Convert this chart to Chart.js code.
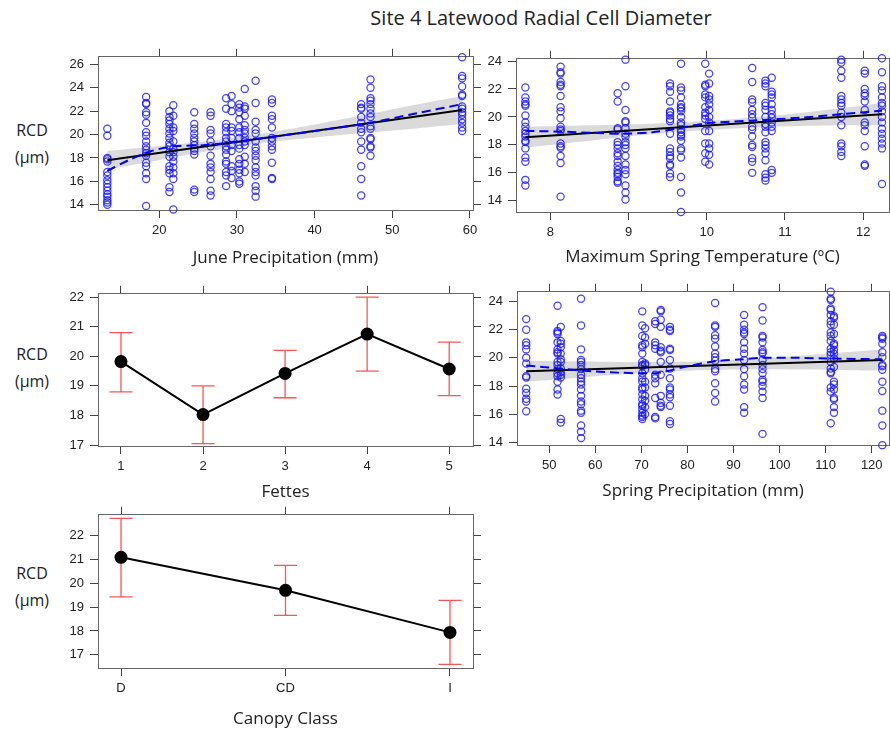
<!DOCTYPE html>
<html>
<head>
<meta charset="utf-8">
<title>Site 4 Latewood Radial Cell Diameter</title>
<script src="https://cdn.jsdelivr.net/npm/chart.js@4.4.1/dist/chart.umd.min.js"></script>
<style>
  html, body { margin: 0; padding: 0; background: #fff; overflow: hidden; }
  #page { position: relative; width: 890px; height: 730px; overflow: hidden; font-family: "Open Sans", Lato, sans-serif; color: #222; }
  #page canvas { position: absolute; }
  .title { position: absolute; left: 291px; width: 500px; top: 6px; text-align: center; font-size: 20px; line-height: 24px; }
  .ylab { position: absolute; left: -3px; width: 70px; text-align: center; font-size: 16px; line-height: 27px; }
</style>
</head>
<body>
<div id="page">
  <div class="title">Site 4 Latewood Radial Cell Diameter</div>
  <div class="ylab" style="top:117px">RCD<br>(μm)</div>
  <div class="ylab" style="top:341px">RCD<br>(μm)</div>
  <div class="ylab" style="top:560px">RCD<br>(μm)</div>
</div>
<script>
// June precipitation (mm) per year, and the RCD values measured in that year
const junePrecip = [13.3, 18.3, 21.3, 21.8, 24.5, 26.6, 28.6, 29.3, 30.3, 31.0, 32.4, 34.5, 46.0, 47.2, 59.0];
const junePrecipRCD = [
  [20.5, 19.9, 18.0, 17.9, 17.7, 16.8, 16.5, 16.1, 15.8, 15.5, 15.2, 14.9, 14.7, 14.4, 14.2, 14.0],
  [23.2, 22.7, 22.6, 21.9, 21.7, 21.0, 20.2, 19.9, 19.4, 19.0, 18.7, 18.4, 18.2, 17.6, 17.3, 16.7, 16.2, 13.9],
  [22.0, 21.5, 21.2, 20.9, 20.5, 20.1, 19.7, 19.3, 19.0, 18.5, 18.1, 17.3, 17.0, 16.7, 15.5, 15.1],
  [22.5, 21.6, 20.6, 20.3, 19.4, 18.8, 18.5, 18.1, 17.7, 17.2, 16.7, 16.2, 13.6],
  [21.9, 20.9, 20.5, 20.1, 19.7, 19.4, 19.1, 18.8, 18.6, 18.3, 15.3, 15.1],
  [21.9, 21.6, 20.4, 20.1, 19.4, 19.0, 18.2, 17.5, 17.2, 16.8, 16.2, 15.2, 14.8],
  [23.1, 22.2, 20.9, 20.6, 20.2, 19.7, 19.4, 19.0, 18.7, 18.3, 17.7, 17.5, 16.8, 16.5, 15.6],
  [23.3, 22.6, 22.0, 20.6, 20.3, 19.7, 19.1, 18.6, 17.3, 16.9, 16.3],
  [22.6, 22.3, 21.9, 21.3, 20.6, 20.2, 19.7, 19.1, 18.8, 17.9, 17.5, 17.0, 16.7, 16.0, 15.8],
  [23.9, 22.4, 22.2, 21.6, 20.8, 20.4, 20.1, 19.7, 19.4, 19.1, 18.1, 17.5, 16.8],
  [24.6, 22.7, 21.1, 20.4, 20.1, 19.4, 18.9, 18.6, 18.2, 17.8, 17.2, 16.8, 16.5, 15.6, 15.2, 14.7],
  [23.0, 22.7, 21.6, 21.3, 20.6, 19.7, 19.4, 19.0, 18.7, 17.6, 16.3, 16.2],
  [22.6, 22.3, 22.2, 21.5, 21.0, 20.5, 20.2, 19.4, 18.7, 17.3, 16.2, 14.8],
  [24.7, 24.0, 23.1, 22.9, 22.6, 22.2, 21.8, 21.5, 20.7, 20.5, 19.7, 19.6, 19.0, 18.9, 18.2],
  [26.6, 25.0, 24.8, 24.1, 23.4, 23.3, 22.4, 22.2, 21.9, 21.7, 21.3, 21.0, 20.6, 20.3]
];
const junePrecipFitX = [13.3, 59.0];
const junePrecipFitY = [17.8, 22.1];
const junePrecipBandX = [13.3, 20, 25, 30, 35, 40, 46, 52, 59];
const junePrecipBandLo = [17.0, 17.83, 18.45, 18.97, 19.42, 19.76, 20.12, 20.46, 20.9];
const junePrecipBandHi = [18.6, 19.03, 19.35, 19.77, 20.26, 20.86, 21.62, 22.42, 23.3];
const junePrecipSmoothX = [13.3, 16, 19, 22, 26, 30, 35, 40, 47, 53, 59];
const junePrecipSmoothY = [16.9, 17.8, 18.6, 19.0, 19.1, 19.4, 19.85, 20.3, 21.0, 21.8, 22.6];
const junePrecipTicks = [20, 30, 40, 50, 60];
const rcdTicksJune = [14, 16, 18, 20, 22, 24, 26];

// Maximum spring temperature (°C)
const springTemp = [7.68, 8.13, 8.86, 8.96, 9.53, 9.67, 9.98, 10.03, 10.58, 10.75, 10.83, 11.72, 12.02, 12.24];
const springTempRCD = [
  [22.1, 21.4, 21.1, 20.9, 20.8, 20.1, 19.6, 19.3, 19.0, 18.8, 18.6, 18.3, 18.2, 17.75, 17.1, 16.8, 15.5, 15.1],
  [23.6, 23.2, 23.1, 22.5, 22.3, 22.2, 21.5, 20.7, 20.4, 19.9, 19.3, 19.1, 19.0, 18.1, 17.9, 17.8, 17.2, 16.7, 14.3],
  [21.7, 21.1, 19.2, 19.1, 18.2, 18.0, 17.75, 17.4, 17.2, 16.8, 16.5, 16.2, 16.0, 15.9, 15.7, 15.4, 15.3],
  [24.1, 22.2, 20.5, 19.7, 19.6, 19.2, 18.8, 18.6, 18.2, 18.0, 17.75, 17.2, 16.6, 16.2, 15.9, 15.1, 14.6, 14.1],
  [22.4, 22.2, 21.8, 21.1, 20.4, 20.3, 20.1, 19.85, 19.7, 18.8, 17.75, 17.5, 17.2, 17.05, 16.6, 16.5, 15.95, 15.7],
  [23.8, 22.1, 21.9, 21.4, 20.9, 20.7, 20.6, 20.4, 20.0, 19.6, 19.4, 19.1, 18.9, 18.7, 18.6, 18.3, 17.75, 17.6, 17.1, 15.7, 14.6, 13.2],
  [23.8, 22.3, 22.2, 21.6, 21.4, 20.7, 20.3, 20.1, 19.85, 19.0, 18.1, 17.4, 16.8],
  [23.1, 22.4, 21.5, 21.25, 20.9, 20.5, 20.0, 19.6, 19.0, 18.1, 17.75, 17.3, 16.6],
  [23.5, 22.5, 21.25, 21.05, 20.5, 20.2, 19.95, 19.3, 19.1, 18.6, 18.0, 17.85, 17.05, 16.8, 16.0],
  [22.6, 22.4, 22.2, 21.0, 20.8, 20.5, 20.0, 19.5, 19.3, 18.9, 18.2, 18.0, 17.75, 17.4, 16.9, 15.9, 15.65, 15.45],
  [22.8, 21.8, 21.6, 21.4, 20.9, 20.5, 20.2, 19.95, 19.6, 19.3, 19.0, 16.2, 16.0],
  [24.1, 23.9, 23.3, 22.8, 21.5, 21.25, 21.0, 20.8, 20.3, 20.0, 19.4, 18.1, 17.9, 17.5, 17.2],
  [23.3, 23.1, 22.0, 21.7, 21.5, 21.1, 20.5, 19.6, 19.4, 19.0, 17.9, 16.6, 16.5],
  [24.2, 23.2, 22.2, 21.9, 21.4, 21.0, 20.8, 20.4, 20.0, 19.6, 19.15, 18.8, 18.45, 18.1, 17.75, 15.2]
];
const springTempFitX = [7.68, 12.24];
const springTempFitY = [18.55, 20.2];
const springTempBandX = [7.68, 8.5, 9.3, 10.0, 10.7, 11.5, 12.24];
const springTempBandLo = [17.8, 18.3, 18.76, 19.06, 19.26, 19.38, 19.4];
const springTempBandHi = [19.3, 19.4, 19.52, 19.72, 20.02, 20.48, 21.0];
const springTempSmoothX = [7.68, 8.13, 8.6, 8.96, 9.3, 9.6, 10.0, 10.6, 11.2, 11.72, 12.24];
const springTempSmoothY = [19.0, 18.95, 18.85, 18.8, 18.9, 19.15, 19.55, 19.75, 19.95, 20.2, 20.45];
const springTempTicks = [8, 9, 10, 11, 12];
const rcdTicksTemp = [14, 16, 18, 20, 22, 24];

// Spring precipitation (mm)
const springPrecip = [45.0, 51.8, 52.5, 56.9, 70.2, 70.8, 73.0, 74.2, 76.2, 86.0, 92.3, 96.3, 111.1, 111.8, 122.3];
const springPrecipRCD = [
  [22.75, 22.0, 21.1, 20.9, 20.6, 20.0, 19.6, 18.7, 18.6, 17.8, 17.5, 17.1, 16.9, 16.2],
  [23.7, 21.9, 21.8, 21.7, 21.1, 20.6, 20.4, 20.3, 19.7, 19.5, 19.2, 18.9, 18.7, 18.3, 17.75, 17.4],
  [22.2, 21.2, 21.0, 20.75, 20.3, 19.9, 19.7, 19.25, 19.0, 18.8, 18.6, 15.65, 15.4],
  [24.2, 22.3, 20.6, 19.85, 19.7, 19.5, 19.2, 18.8, 18.55, 18.3, 18.1, 17.75, 17.3, 16.9, 16.7, 16.25, 16.1, 15.2, 14.75, 14.3],
  [23.3, 22.3, 21.55, 20.9, 20.75, 20.3, 19.7, 19.5, 19.4, 18.9, 18.55, 18.3, 17.9, 17.75, 17.4, 17.05, 16.7, 16.6, 16.35, 16.1, 15.9, 15.8, 15.65],
  [22.1, 21.45, 21.0, 19.6, 19.5, 19.15, 18.3, 17.9, 17.3, 16.95, 16.5, 16.0],
  [22.6, 22.4, 21.1, 20.9, 20.65, 18.8, 18.55, 18.2, 17.15, 15.8, 15.7],
  [23.4, 23.3, 22.7, 22.2, 20.75, 20.5, 20.4, 19.7, 18.8, 17.3, 16.8, 16.6, 16.5],
  [22.2, 22.0, 21.9, 20.65, 20.55, 19.85, 19.25, 18.55, 17.9, 17.75, 17.4, 17.2, 16.6, 15.5, 15.3],
  [23.9, 22.3, 22.2, 21.6, 21.35, 20.8, 20.3, 20.05, 19.8, 19.2, 19.05, 18.2, 17.5, 16.9],
  [23.05, 22.35, 22.0, 21.8, 21.7, 21.1, 20.65, 20.3, 19.85, 19.2, 18.7, 18.1, 17.75, 16.5, 16.1],
  [23.6, 22.65, 21.55, 21.45, 21.1, 20.55, 20.4, 20.3, 19.85, 19.5, 19.2, 18.9, 18.45, 18.3, 18.0, 17.6, 17.15, 14.6],
  [24.7, 24.2, 24.1, 23.5, 23.4, 23.05, 22.6, 22.35, 21.8, 21.55, 21.2, 20.65, 20.4, 20.2, 19.7, 19.25, 19.0, 18.9, 17.9, 17.6, 15.35],
  [22.95, 22.85, 22.35, 21.7, 21.0, 20.9, 20.55, 20.3, 19.95, 19.35, 18.3, 18.1, 17.75, 17.15, 17.05, 16.5, 16.1],
  [21.55, 21.45, 21.35, 21.0, 20.4, 20.05, 19.5, 19.4, 19.15, 18.3, 17.65, 16.25, 15.2, 13.8]
];
const springPrecipFitX = [45.0, 122.3];
const springPrecipFitY = [19.05, 19.85];
const springPrecipBandX = [45, 55, 65, 75, 85, 95, 105, 115, 122.3];
const springPrecipBandLo = [18.3, 18.55, 18.81, 19.01, 19.14, 19.19, 19.17, 19.12, 19.1];
const springPrecipBandHi = [19.8, 19.75, 19.71, 19.71, 19.78, 19.95, 20.17, 20.42, 20.6];
const springPrecipSmoothX = [45, 52, 57, 65, 70, 74, 80, 86, 92, 96, 104, 111, 122.3];
const springPrecipSmoothY = [19.45, 19.25, 19.1, 18.95, 18.9, 18.95, 19.4, 19.75, 19.9, 20.0, 20.0, 19.95, 19.9];
const springPrecipTicks = [50, 60, 70, 80, 90, 100, 110, 120];
const rcdTicksSpring = [14, 16, 18, 20, 22, 24];

// Fettes effect: fitted mean and interval
const fettes = [1, 2, 3, 4, 5];
const fettesRCD = [19.82, 18.03, 19.42, 20.75, 19.57];
const fettesLow = [18.8, 17.05, 18.6, 19.5, 18.67];
const fettesHigh = [20.8, 19.0, 20.2, 22.0, 20.48];
const rcdTicksFettes = [17, 18, 19, 20, 21, 22];

// Canopy class effect
const canopyClasses = ['D', 'CD', 'I'];
const canopyRCD = [21.08, 19.7, 17.94];
const canopyLow = [19.43, 18.65, 16.6];
const canopyHigh = [22.71, 20.74, 19.28];
const rcdTicksCanopy = [17, 18, 19, 20, 21, 22];

const page = document.getElementById('page');
const TICK = 8;
const BLUE = 'rgba(20,20,255,0.8)';

function columnsToPoints(xs, cols) {
  const out = [];
  xs.forEach((x, i) => cols[i].forEach(y => out.push({ x, y })));
  return out;
}
function pairs(xs, ys) {
  return xs.map((x, i) => ({ x, y: ys[i] }));
}

// error bars with caps, drawn under the mean markers
const errorBarPlugin = {
  id: 'errorBars',
  beforeDatasetsDraw(chart, args, opts) {
    const { ctx, scales: { x, y } } = chart;
    ctx.save();
    ctx.strokeStyle = opts.color;
    ctx.lineWidth = 1.3;
    opts.xs.forEach((v, i) => {
      const px = x.getPixelForValue(v);
      const lo = y.getPixelForValue(opts.low[i]);
      const hi = y.getPixelForValue(opts.high[i]);
      ctx.beginPath();
      ctx.moveTo(px, lo); ctx.lineTo(px, hi);
      ctx.moveTo(px - opts.cap, lo); ctx.lineTo(px + opts.cap, lo);
      ctx.moveTo(px - opts.cap, hi); ctx.lineTo(px + opts.cap, hi);
      ctx.stroke();
    });
    ctx.restore();
  }
};

function scatterSets(xs, cols, fitX, fitY, bandX, bandLo, bandHi, smX, smY) {
  return [
    { data: pairs(smX, smY), borderColor: '#0000ff', borderWidth: 2, borderDash: [9, 5], pointRadius: 0, tension: 0.3 },
    { data: pairs(fitX, fitY), borderColor: '#000', borderWidth: 2, pointRadius: 0 },
    { data: columnsToPoints(xs, cols), showLine: false, pointRadius: 3.6, pointBorderWidth: 1.25,
      pointBorderColor: BLUE, pointBackgroundColor: 'rgba(0,0,0,0)', clip: 5 },
    { data: pairs(bandX, bandLo), borderWidth: 0, pointRadius: 0, tension: 0.4 },
    { data: pairs(bandX, bandHi), borderWidth: 0, pointRadius: 0, tension: 0.4,
      fill: '-1', backgroundColor: 'rgba(205,205,205,0.75)' }
  ];
}

function effectSets(xs, ys) {
  return [
    { data: pairs(xs, ys), borderColor: '#000', borderWidth: 2, pointRadius: 6.5,
      pointBackgroundColor: '#000', pointBorderColor: '#000', pointBorderWidth: 0, clip: 8 }
  ];
}

function makePanel(box, spec) {
  const ML = spec.ml, MB = 70;
  const W = box.r - box.l + ML + 10, H = box.b - box.t + 10 + MB;
  const cv = document.createElement('canvas');
  cv.width = W; cv.height = H;
  cv.style.left = (box.l - ML) + 'px';
  cv.style.top = (box.t - 10) + 'px';
  cv.style.width = W + 'px';
  cv.style.height = H + 'px';
  page.appendChild(cv);

  const setTicks = vals => scale => { scale.ticks = vals.map(v => ({ value: v })); };
  const grid = { display: true, drawOnChartArea: false, drawTicks: true, tickLength: TICK, color: '#444', lineWidth: 1 };
  const border = { display: true, color: '#666', width: 1 };
  const tickFont = { family: 'Liberation Sans', size: 13 };
  const titleSize = 17, lh = titleSize * 1.2;

  const side = (axis, pos, min, max, vals) => ({
    type: 'linear', axis, position: pos, min, max,
    afterBuildTicks: setTicks(vals),
    afterFit: s => { if (axis === 'x') s.height = TICK; else s.width = TICK; },
    grid, border, ticks: { display: false }
  });

  new Chart(cv, {
    type: 'line',
    data: { datasets: spec.datasets },
    options: {
      responsive: false, animation: false, events: [],
      layout: { padding: { left: 0, top: 2, right: 2, bottom: 0 } },
      plugins: { legend: { display: false }, tooltip: { enabled: false }, errorBars: spec.errorBars || {} },
      scales: {
        x: {
          type: 'linear', position: 'bottom', min: spec.xMin, max: spec.xMax,
          afterBuildTicks: setTicks(spec.xTicks),
          afterFit: s => { s.height = MB; },
          grid, border,
          ticks: { autoSkip: false, maxRotation: 0, padding: 5, color: '#222', font: tickFont,
                   callback: spec.xLabel || (v => v) },
          title: { display: true, text: spec.xTitle, color: '#222', font: { family: 'Open Sans', size: titleSize },
                   padding: { top: 0, bottom: MB - spec.titleOff - lh / 2 } }
        },
        x2: side('x', 'top', spec.xMin, spec.xMax, spec.xTicks),
        y: {
          type: 'linear', position: 'left', min: spec.yMin, max: spec.yMax,
          afterBuildTicks: setTicks(spec.yTicks),
          afterFit: s => { s.width = ML; },
          grid, border,
          ticks: { autoSkip: false, padding: 6, color: '#222', font: tickFont }
        },
        y2: side('y', 'right', spec.yMin, spec.yMax, spec.yTicks)
      }
    },
    plugins: spec.errorBars ? [errorBarPlugin] : []
  });
}

// June precipitation
makePanel({ l: 98, t: 53, r: 473, b: 210 }, {
  ml: 98, xMin: 12.1, xMax: 60.4, yMin: 13.56, yMax: 26.64,
  xTicks: junePrecipTicks, yTicks: rcdTicksJune,
  xTitle: 'June Precipitation (mm)', titleOff: 48,
  datasets: scatterSets(junePrecip, junePrecipRCD, junePrecipFitX, junePrecipFitY,
    junePrecipBandX, junePrecipBandLo, junePrecipBandHi, junePrecipSmoothX, junePrecipSmoothY)
});

// maximum spring temperature
makePanel({ l: 516, t: 55, r: 889, b: 212 }, {
  ml: 36, xMin: 7.56, xMax: 12.33, yMin: 13.2, yMax: 24.16,
  xTicks: springTempTicks, yTicks: rcdTicksTemp,
  xTitle: 'Maximum Spring Temperature (ºC)', titleOff: 45,
  datasets: scatterSets(springTemp, springTempRCD, springTempFitX, springTempFitY,
    springTempBandX, springTempBandLo, springTempBandHi, springTempSmoothX, springTempSmoothY)
});

// Fettes
makePanel({ l: 98, t: 290, r: 473, b: 446 }, {
  ml: 98, xMin: 0.72, xMax: 5.29, yMin: 16.97, yMax: 22.11,
  xTicks: fettes, yTicks: rcdTicksFettes,
  xTitle: 'Fettes', titleOff: 46,
  datasets: effectSets(fettes, fettesRCD),
  errorBars: { xs: fettes, low: fettesLow, high: fettesHigh, color: 'rgba(255,40,40,0.8)', cap: 11.5 }
});

// spring precipitation
makePanel({ l: 517, t: 288, r: 889, b: 445 }, {
  ml: 37, xMin: 43, xMax: 123.75, yMin: 13.81, yMax: 24.69,
  xTicks: springPrecipTicks, yTicks: rcdTicksSpring,
  xTitle: 'Spring Precipitation (mm)', titleOff: 46,
  datasets: scatterSets(springPrecip, springPrecipRCD, springPrecipFitX, springPrecipFitY,
    springPrecipBandX, springPrecipBandLo, springPrecipBandHi, springPrecipSmoothX, springPrecipSmoothY)
});

// canopy class
const canopyPos = canopyClasses.map((c, i) => i + 1);
makePanel({ l: 98, t: 511, r: 473, b: 668 }, {
  ml: 98, xMin: 0.86, xMax: 3.14, yMin: 16.45, yMax: 22.86,
  xTicks: canopyPos, yTicks: rcdTicksCanopy,
  xLabel: v => canopyClasses[v - 1],
  xTitle: 'Canopy Class', titleOff: 51,
  datasets: effectSets(canopyPos, canopyRCD),
  errorBars: { xs: canopyPos, low: canopyLow, high: canopyHigh, color: 'rgba(255,40,40,0.8)', cap: 11.5 }
});
</script>
</body>
</html>
